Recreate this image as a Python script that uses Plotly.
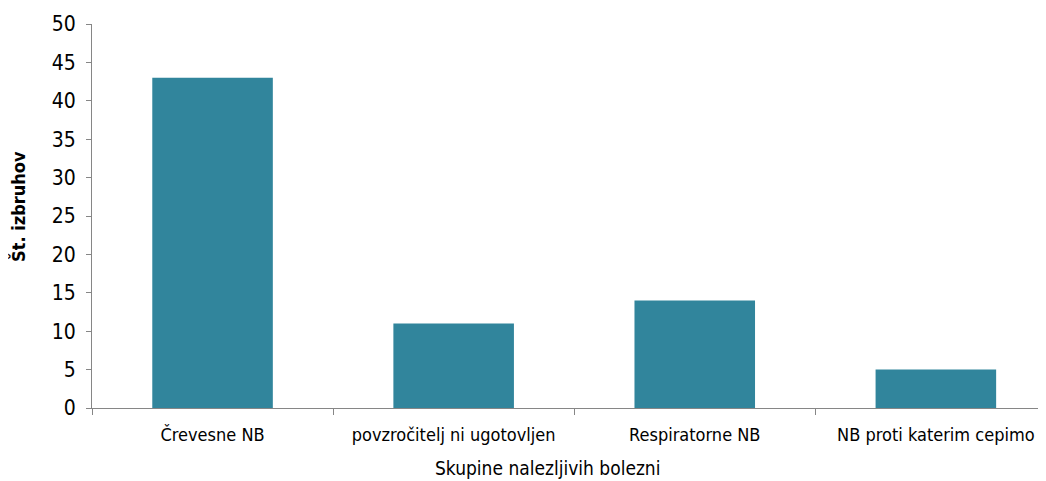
import plotly.graph_objects as go

categories = ["Črevesne NB", "povzročitelj ni ugotovljen", "Respiratorne NB", "NB proti katerim cepimo"]
values = [43, 11, 14, 5]
x_title = "Skupine nalezljivih bolezni"
y_title = "<b>Št. izbruhov</b>"

fig = go.Figure(go.Bar(x=categories, y=values, marker=dict(color="#31859C", line=dict(width=0)), width=0.5))

font = "DejaVu Sans Condensed, Tahoma, Noto Sans, sans-serif"
fig.update_layout(
    width=1046, height=481,
    margin=dict(l=84, r=0, t=16, b=81),
    paper_bgcolor="white", plot_bgcolor="white",
    showlegend=False,
    font=dict(family=font, color="#000000"),
    annotations=[
        dict(text=x_title, xref="paper", yref="paper", x=0.473, y=-0.156,
             xanchor="center", yanchor="middle", showarrow=False, font=dict(size=19)),
        dict(text=y_title, xref="paper", yref="paper", x=-0.077, y=0.526, textangle=-90,
             xanchor="center", yanchor="middle", showarrow=False, font=dict(size=18)),
    ],
)
fig.update_xaxes(
    range=[-0.5, 3.49], showline=True, linecolor="#868686", linewidth=1,
    ticks="outside", tickson="boundaries", ticklen=6, tickcolor="#868686",
    tickfont=dict(size=18), showgrid=False, ticklabelstandoff=10,
)
fig.update_yaxes(
    range=[0, 50], dtick=5, showline=True, linecolor="#868686", linewidth=1,
    ticks="outside", ticklen=5, tickcolor="#868686", showgrid=False, zeroline=False,
    tickfont=dict(size=21), ticklabelstandoff=6,
)
fig.write_html("out.html")
